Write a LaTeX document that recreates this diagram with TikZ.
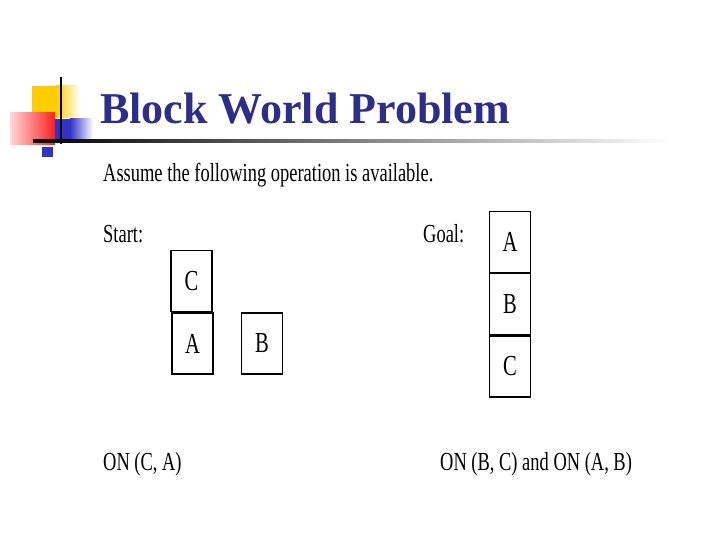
\documentclass[tikz,border=0pt]{standalone}
\usepackage{fontspec}
\setmainfont{Liberation Serif}
\usetikzlibrary{positioning}
\definecolor{titleblue}{RGB}{45,45,140}
\definecolor{decoyellow}{RGB}{255,204,0}
\definecolor{decored}{RGB}{255,30,30}
\definecolor{decoblue}{RGB}{50,50,200}
\newcommand{\cond}[1]{\scalebox{0.71}[1]{#1}}

\begin{document}
\begin{tikzpicture} [x=1pt, y=-1pt,
  txt/.style={anchor=base west, inner sep=0, font=\fontsize{26}{30}\selectfont},
  blk/.style={draw, line width=1.2pt, minimum width=41pt, minimum height=61pt, inner sep=0, font=\fontsize{29}{32}\selectfont}]
\useasboundingbox (0,0) rectangle (720,540);
% corner decoration
\fill[decoyellow] (32,86) rectangle (56,118);
\shade[left color=decoyellow, right color=white] (56,86) rectangle (80,118);
\shade[left color=red!15, right color=decored] (10,113) rectangle (55,145);
\fill[decoblue] (55,119) rectangle (70,140);
\shade[left color=decoblue, right color=white] (70,119) rectangle (93,140);
\draw[black, line width=2pt] (61,77) -- (61,144);
\shade[left color=black, right color=white] (33,139.5) rectangle (670,142.5);
\fill[decoblue] (42,147) rectangle (53,157);
% title
\node[anchor=base west, inner sep=0, text=titleblue, font=\fontsize{44}{50}\selectfont\bfseries] (title) at (100,124) {Block World Problem};
% texts
\node[txt] (assume) at (103,182) {\cond{Assume the following operation is available.}};
\node[txt] (start) at (103,242) {\cond{Start:}};
\node[txt] (goal) at (423,242) {\cond{Goal:}};
\node[txt] (onstart) at (103,470) {\cond{ON (C, A)}};
\node[txt] (ongoal) at (440,470) {\cond{ON (B, C) and ON (A, B)}};
% start blocks
\node[blk] (sA) at (192.5,343.5) {\cond{A}};
\node[blk, above=0pt of sA, xshift=-1pt] (sC) {\cond{C}};
\node[blk] (sB) at (262,343.5) {\cond{B}};
% goal blocks
\node[blk] (gA) at (510,242) {\cond{A}};
\node[blk, below=0pt of gA] (gB) {\cond{B}};
\node[blk, below=0pt of gB] (gC) {\cond{C}};
\end{tikzpicture}
\end{document}
